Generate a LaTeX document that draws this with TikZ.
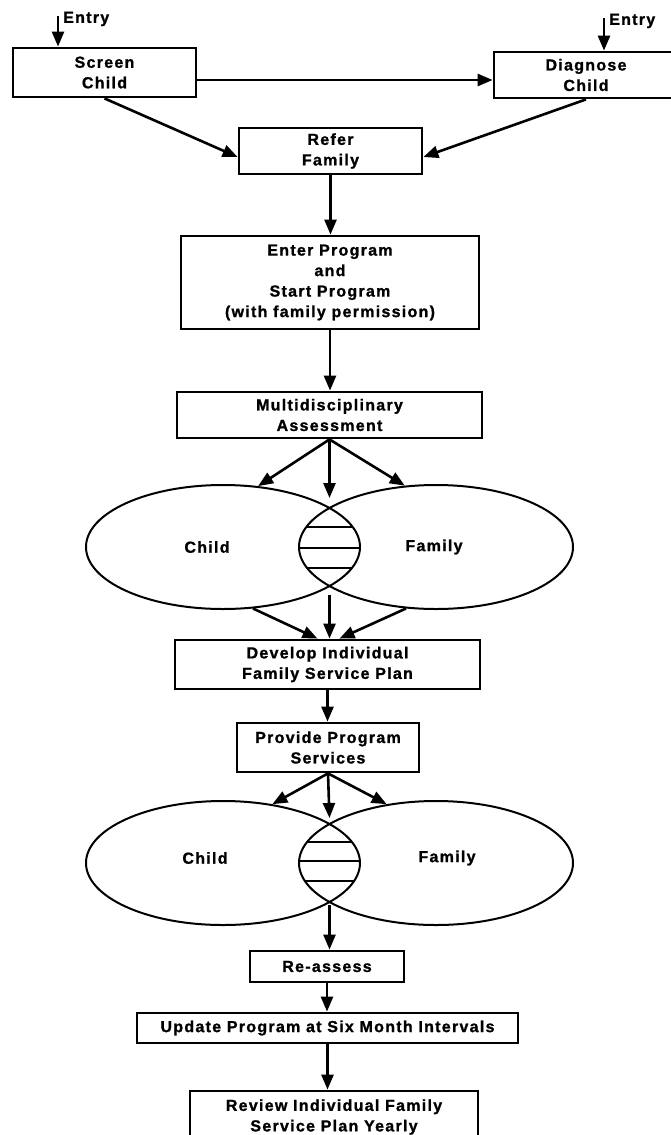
\documentclass[tikz,border=0pt]{standalone}
\usepackage{fontspec}
\newfontfamily\chartfont[LetterSpace=8,BoldFeatures={FakeBold=1.2}]{Liberation Sans}
\usetikzlibrary{arrows.meta,shapes.geometric}

\begin{document}
\begin{tikzpicture}[x=1pt,y=-1pt,>={Triangle[length=15pt,width=12pt]},
    font=\chartfont\bfseries\fontsize{16}{20.5}\selectfont,
    box/.style={draw,line width=2.8pt,inner sep=0pt,align=center},
    venn/.style={ellipse,draw,line width=2pt,minimum width=274pt,minimum height=124pt,inner sep=0pt},
    flow/.style={->,line width=2.6pt},
    lbl/.style={inner sep=0pt}]

      \useasboundingbox (0,0) rectangle (671,1135);
      \clip (0,0) rectangle (671,1135);

      \node[box,minimum width=183pt,minimum height=49pt] (screen) at (104.5,72.5) {Screen\\Child};
      \node[box,minimum width=184pt,minimum height=46pt] (diagnose) at (586,75) {Diagnose\\Child};
      \node[box,minimum width=183pt,minimum height=46pt] (refer) at (330.5,151) {Refer\\Family};
      \node[box,minimum width=298pt,minimum height=93pt] (enter) at (330,282.5) {Enter Program\\and\\Start Program\\(with family permission)};
      \node[box,minimum width=305pt,minimum height=46pt] (multi) at (329.5,415) {Multidisciplinary\\Assessment};

      \coordinate (in1) at (58,16);
      \coordinate (in2) at (604,18);
      \node[lbl,anchor=west] (entry1) at (63,19) {Entry};
      \node[lbl,anchor=west] (entry2) at (609,21) {Entry};

      % first pair of circles
      \node[venn] (child1) at (223,547) {};
      \node[venn] (family1) at (436,547) {};
      \node[lbl] (childtxt1) at (207,547) {Child};
      \node[lbl] (familytxt1) at (434,547) {Family};
      \begin{scope}
        \clip (child1.center) ellipse [x radius=137pt, y radius=62pt];
        \clip (family1.center) ellipse [x radius=137pt, y radius=62pt];
        \foreach \ly in {527,548,568}
          \draw[line width=1.8pt] (280,\ly) -- (380,\ly);
      \end{scope}
      \coordinate (cross1) at (329.5,508);
      \coordinate (cross2) at (329.5,586);

      \node[box,minimum width=305pt,minimum height=49pt] (develop) at (327.5,664.5) {Develop Individual\\Family Service Plan};
      \node[box,minimum width=182pt,minimum height=49pt] (provide) at (328,747.5) {Provide Program\\Services};

      % second pair of circles
      \node[venn] (child2) at (223,863) {};
      \node[venn] (family2) at (436,863) {};
      \node[lbl] (childtxt2) at (205,858) {Child};
      \node[lbl] (familytxt2) at (447,858) {Family};
      \begin{scope}
        \clip (child2.center) ellipse [x radius=137pt, y radius=62pt];
        \clip (family2.center) ellipse [x radius=137pt, y radius=62pt];
        \foreach \ly in {842,861,881}
          \draw[line width=1.8pt] (280,\ly) -- (380,\ly);
      \end{scope}
      \coordinate (cross3) at (329.5,824);
      \coordinate (cross4) at (329.5,902);

      \node[box,minimum width=154pt,minimum height=31pt] (reassess) at (327,966.5) {Re-assess};
      \node[box,minimum width=381pt,minimum height=30pt] (update) at (327.5,1028) {Update Program at Six Month Intervals};
      \node[box,minimum width=288pt,minimum height=52pt] (review) at (334,1117) {Review Individual Family\\Service Plan Yearly};

      \draw[flow] (in1) -- (in1 |- screen.north);
      \draw[flow] (in2) -- (in2 |- diagnose.north);
      \draw[flow] ([yshift=-7.5pt]screen.east) -- ([yshift=-7.5pt]screen.east -| diagnose.west);
      \draw[flow] (screen.south) -- ([yshift=-6pt]refer.west);
      \draw[flow] (diagnose.south) -- ([yshift=-6pt]refer.east);
      \draw[flow] (refer.south) -- (refer.south |- enter.north);
      \draw[flow] (enter.south) -- (enter.south |- multi.north);

      \draw[flow] (multi.south) -- (child1.60);
      \draw[flow] (multi.south) -- ([yshift=10pt]cross1);
      \draw[flow] (multi.south) -- (family1.117);
      \draw[flow] (child1.-64) -- ([xshift=-10pt]develop.north);
      \draw[flow] ([yshift=-9pt]cross2) -- (cross2 |- develop.north);
      \draw[flow] (family1.-116) -- ([xshift=12pt]develop.north);

      \draw[flow] (develop.south) -- (develop.south |- provide.north);
      \draw[flow] (provide.south) -- (child2.50);
      \draw[flow] (provide.south) -- ([yshift=6pt]cross3);
      \draw[flow] (provide.south) -- (family2.130);

      \draw[flow] ([yshift=-3pt]cross4) -- (cross4 |- reassess.north);
      \draw[flow] (reassess.south) -- (reassess.south |- update.north);
      \draw[flow] (update.south) -- (update.south |- review.north);

\end{tikzpicture}
\end{document}
